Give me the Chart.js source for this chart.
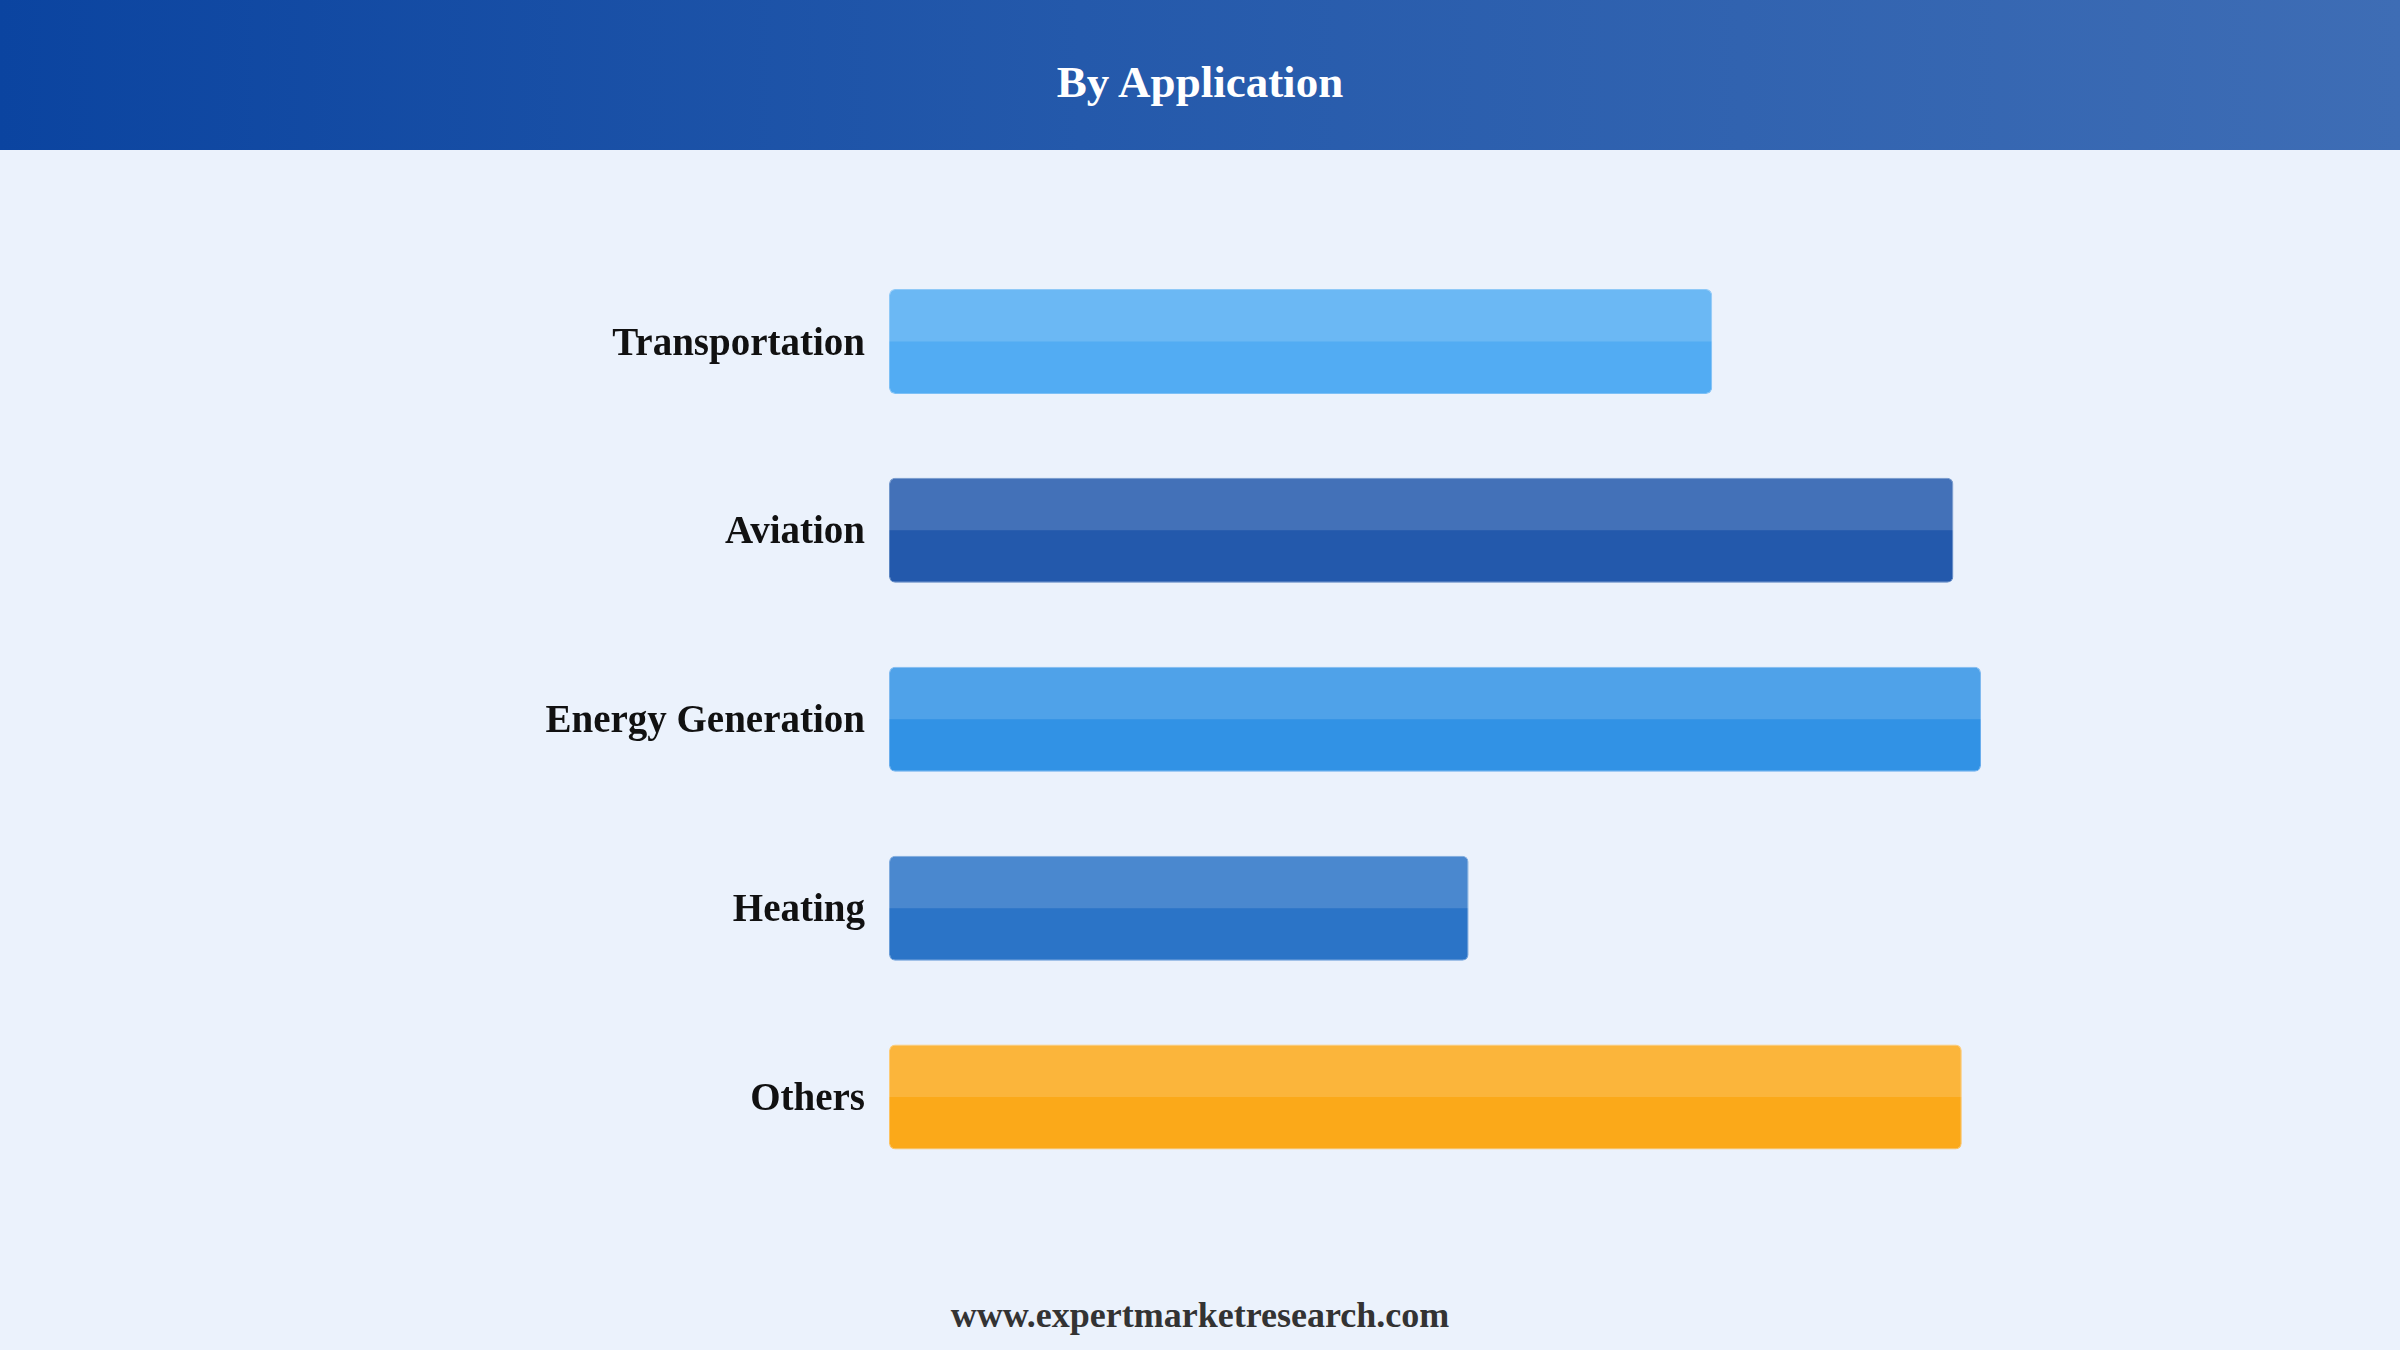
<!DOCTYPE html>
<html>
<head>
<meta charset="utf-8">
<script src="https://cdn.jsdelivr.net/npm/chart.js@4/dist/chart.umd.min.js"></script>
<style>
  html, body { margin: 0; padding: 0; width: 2400px; height: 1350px; overflow: hidden; background: #ebf2fc; }
  #header { position: absolute; left: 0; top: 0; width: 2400px; height: 150px;
    background: linear-gradient(to right, #0b44a0 0%, #2459ab 45%, #3e6db5 100%); }
  #title { position: absolute; left: 0; top: 0; width: 2400px; height: 165px; line-height: 165px; text-align: center;
    font-family: "Liberation Serif", "Times New Roman", serif; font-weight: bold; font-size: 45px; color: #ffffff; }
  #wrap { position: absolute; left: 0; top: 150px; width: 2400px; height: 1120px; }
  #footer { position: absolute; left: 0; top: 1292px; width: 2400px; height: 46px; line-height: 46px; text-align: center;
    font-family: "Liberation Serif", "Times New Roman", serif; font-weight: bold; font-size: 36px; color: #333333; }
</style>
</head>
<body>
<div id="header"><div id="title">By Application</div></div>
<div id="wrap"><canvas id="c" width="2400" height="1120"></canvas></div>
<div id="footer">www.expertmarketresearch.com</div>
<script>
const categories = ["Transportation", "Aviation", "Energy Generation", "Heating", "Others"];
const values = [68.6, 88.7, 91.0, 48.3, 89.4];
const barColors = ["#52acf3", "#2359ac", "#3192e5", "#2b74c7", "#fba919"];
const borderColors = ["#7cc0f6", "#5a85c2", "#6aaeed", "#6a9dd8", "#fcc260"];

const topShine = {
  id: 'topShine',
  afterDatasetsDraw(chart) {
    const ctx = chart.ctx;
    const meta = chart.getDatasetMeta(0);
    meta.data.forEach((bar) => {
      const p = bar.getProps(['x', 'y', 'base', 'height'], true);
      const left = Math.min(p.x, p.base), right = Math.max(p.x, p.base);
      const top = p.y - p.height / 2;
      const h = p.height / 2;
      const r = 6;
      ctx.save();
      ctx.fillStyle = 'rgba(255,255,255,0.15)';
      ctx.beginPath();
      ctx.roundRect(left, top, right - left, h, [r, r, 0, 0]);
      ctx.fill();
      ctx.restore();
    });
  }
};

new Chart(document.getElementById('c'), {
  type: 'bar',
  data: {
    labels: categories,
    datasets: [{
      data: values,
      backgroundColor: barColors,
      borderColor: borderColors,
      borderWidth: 1,
      borderRadius: 6,
      borderSkipped: false,
      categoryPercentage: 1,
      barPercentage: 0.556
    }]
  },
  options: {
    indexAxis: 'y',
    responsive: false,
    animation: false,
    layout: { padding: { left: 0, right: 311, top: 97, bottom: 78.5 } },
    plugins: { legend: { display: false }, tooltip: { enabled: false } },
    scales: {
      x: { display: false, min: 0, max: 100 },
      y: {
        afterFit(s) { s.width = 889; },
        grid: { display: false, drawTicks: false },
        border: { display: false },
        ticks: {
          padding: 24,
          labelOffset: 3,
          color: '#111111',
          font: { family: '"Liberation Serif", "Times New Roman", serif', weight: 'bold', size: 39 }
        }
      }
    }
  },
  plugins: [topShine]
});
</script>
</body>
</html>
